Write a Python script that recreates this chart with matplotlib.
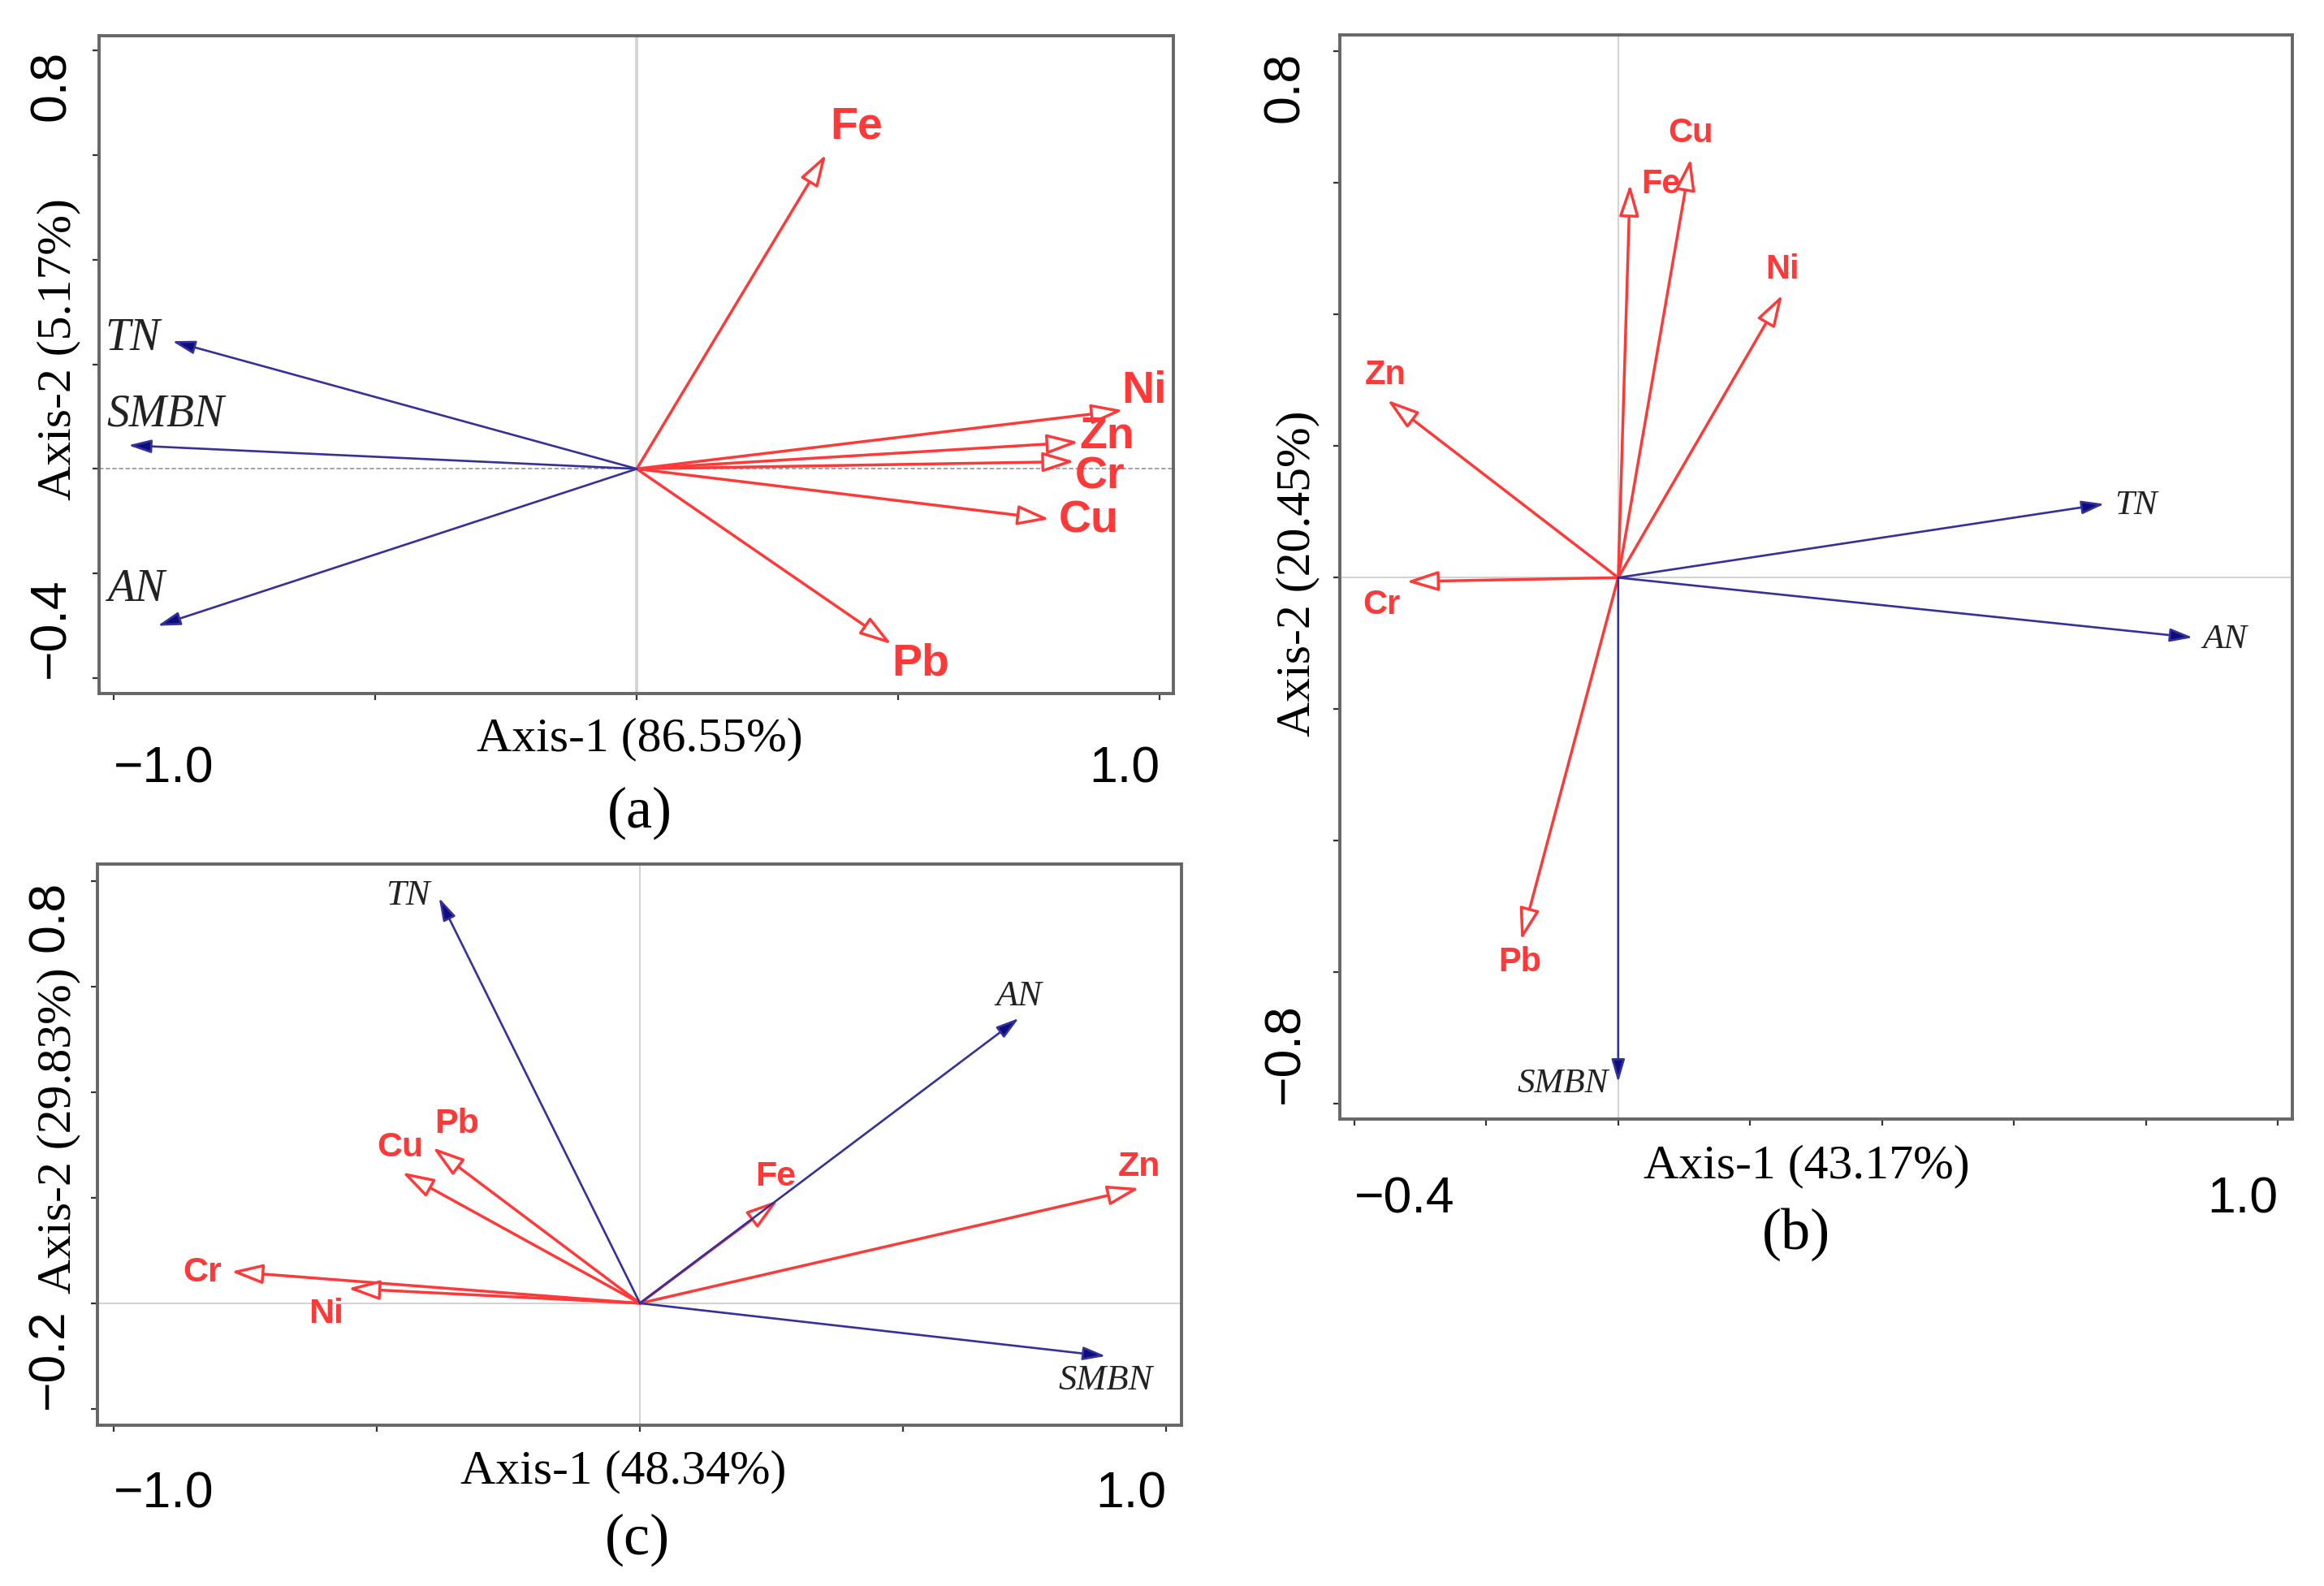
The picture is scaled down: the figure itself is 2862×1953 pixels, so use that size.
import matplotlib.pyplot as plt

W, H = 2862, 1953
SANS = 'Liberation Sans'
SERIF = 'Liberation Serif'
RED = '#ff3838'
BLUE_LINE = '#34309c'
BLUE_HEAD = '#0c0c7c'

# ---- panel (a)
a_env = ['TN', 'SMBN', 'AN']
a_env_x = [-0.888, -0.972, -0.916]
a_env_y = [0.244, 0.045, -0.300]
a_met = ['Fe', 'Ni', 'Zn', 'Cr', 'Cu', 'Pb']
a_met_x = [0.362, 0.930, 0.845, 0.837, 0.789, 0.487]
a_met_y = [0.601, 0.112, 0.051, 0.014, -0.096, -0.335]
a_xticks = [-1.0, -0.5, 0.0, 0.5, 1.0]
a_xticklabels = ['−1.0', '', '', '', '1.0']
a_yticks = [-0.4, -0.2, 0.0, 0.2, 0.4, 0.6, 0.8]
a_yticklabels = ['−0.4', '', '', '', '', '', '0.8']
a_xlabel = 'Axis-1 (86.55%)'
a_ylabel = 'Axis-2 (5.17%)'

# ---- panel (b)
b_env = ['TN', 'AN', 'SMBN']
b_env_x = [0.737, 0.871, 0.0]
b_env_y = [0.112, -0.091, -0.767]
b_met = ['Cu', 'Fe', 'Ni', 'Zn', 'Cr', 'Pb']
b_met_x = [0.110, 0.018, 0.249, -0.350, -0.321, -0.147]
b_met_y = [0.637, 0.598, 0.430, 0.270, -0.006, -0.551]
b_xticks = [-0.4, -0.2, 0.0, 0.2, 0.4, 0.6, 0.8, 1.0]
b_xticklabels = ['−0.4', '', '', '', '', '', '', '1.0']
b_yticks = [-0.8, -0.6, -0.4, -0.2, 0.0, 0.2, 0.4, 0.6, 0.8]
b_yticklabels = ['−0.8', '', '', '', '', '', '', '', '0.8']
b_xlabel = 'Axis-1 (43.17%)'
b_ylabel = 'Axis-2 (20.45%)'

# ---- panel (c)
c_env = ['TN', 'AN', 'SMBN']
c_env_x = [-0.382, 0.720, 0.885]
c_env_y = [0.768, 0.540, -0.100]
c_met = ['Pb', 'Cu', 'Fe', 'Zn', 'Cr', 'Ni']
c_met_x = [-0.394, -0.452, 0.262, 0.949, -0.777, -0.555]
c_met_y = [0.295, 0.248, 0.195, 0.218, 0.060, 0.028]
c_xticks = [-1.0, -0.5, 0.0, 0.5, 1.0]
c_xticklabels = ['−1.0', '', '', '', '1.0']
c_yticks = [-0.2, 0.0, 0.2, 0.4, 0.6, 0.8]
c_yticklabels = ['−0.2', '', '', '', '', '0.8']
c_xlabel = 'Axis-1 (48.34%)'
c_ylabel = 'Axis-2 (29.83%)'


def fig_xy(px, py):
    # pixel position in the picture -> figure fraction
    return px / W, 1 - py / H


def make_axes(fig, left, top, right, bottom):
    x0, y0 = fig_xy(left, bottom)
    x1, y1 = fig_xy(right, top)
    return fig.add_axes([x0, y0, x1 - x0, y1 - y0])


def draw_panel(ax, env, ex, ey, met, mx, my, env_off, met_off, env_fs, met_fs,
               xlim, ylim, xt, xtl, yt, ytl, xpad, ypad, dashed_h):
    ax.set_xlim(*xlim)
    ax.set_ylim(*ylim)
    ax.axvline(0, color='#d2d2d2', lw=2.6 if dashed_h else 1.4, zorder=0)
    if dashed_h:
        ax.axhline(0, color='#9c9c9c', lw=1.3, ls=(0, (3, 1.5)), zorder=0)
    else:
        ax.axhline(0, color='#d2d2d2', lw=1.4, zorder=0)

    for name, x, y in zip(met, mx, my):
        ax.annotate('', xy=(x, y), xytext=(0, 0),
                    arrowprops=dict(arrowstyle='-|>,head_length=24,head_width=7.5',
                                    mutation_scale=1, shrinkA=0, shrinkB=0,
                                    ec=RED, fc='white', lw=2.5))
    for name, x, y in zip(env, ex, ey):
        ax.annotate('', xy=(x, y), xytext=(0, 0),
                    arrowprops=dict(arrowstyle='-|>,head_length=17,head_width=5',
                                    mutation_scale=1, shrinkA=0, shrinkB=0,
                                    ec=BLUE_LINE, fc=BLUE_HEAD, lw=1.9))
    for name, x, y in zip(met, mx, my):
        ax.annotate(name, xy=(x, y), xytext=met_off[name], textcoords='offset pixels',
                    ha='center', va='center', color=RED, fontsize=met_fs,
                    fontweight='bold', family=SANS)
    for name, x, y in zip(env, ex, ey):
        ax.annotate(name, xy=(x, y), xytext=env_off[name], textcoords='offset pixels',
                    ha='center', va='center', color='#222222', fontsize=env_fs,
                    fontstyle='italic', family=SERIF)

    for s in ax.spines.values():
        s.set_color('#666666')
        s.set_linewidth(2.8)
    ax.set_xticks(xt)
    ax.set_xticklabels(xtl, family=SANS, fontsize=45)
    ax.set_yticks(yt)
    ax.set_yticklabels(ytl, family=SANS, fontsize=45, rotation=90)
    ax.tick_params(axis='both', direction='out', length=6, width=1.6, color='#333333')
    ax.tick_params(axis='x', pad=xpad)
    ax.tick_params(axis='y', pad=ypad)
    xl = ax.get_xticklabels()
    xl[0].set_ha('left')
    xl[-1].set_ha('right')
    yl = ax.get_yticklabels()
    for t in yl:
        t.set_ha('right')
    yl[0].set_va('bottom')
    yl[-1].set_va('top')


def put_labels(fig, ax, xlabel, ylabel, tag, xpos, ypos, tagpos):
    ax.set_xlabel(xlabel, family=SERIF, fontsize=43)
    ax.xaxis.set_label_coords(*fig_xy(*xpos), transform=fig.transFigure)
    ax.xaxis.label.set_va('center')
    ax.set_ylabel(ylabel, family=SERIF, fontsize=43)
    ax.yaxis.set_label_coords(*fig_xy(*ypos), transform=fig.transFigure)
    ax.yaxis.label.set_va('center')
    ax.yaxis.label.set_ha('center')
    fig.text(*fig_xy(*tagpos), tag, family=SERIF, fontsize=52, ha='center', va='center')


fig = plt.figure(figsize=(W / 100, H / 100), dpi=100)
fig.patch.set_facecolor('white')

# (a)
ax_a = make_axes(fig, 122, 44, 1445, 854)
draw_panel(ax_a, a_env, a_env_x, a_env_y, a_met, a_met_x, a_met_y,
           {'TN': (-49, 3), 'SMBN': (46, 38), 'AN': (-27, 45)},
           {'Fe': (37, 34), 'Ni': (26, 23), 'Zn': (35, 6), 'Cr': (31, -19),
            'Cu': (48, -2), 'Pb': (36, -24)},
           40, 40, (-1.028, 1.026), (-0.4295, 0.828),
           a_xticks, a_xticklabels, a_yticks, a_yticklabels, 40, 15, True)
put_labels(fig, ax_a, a_xlabel, a_ylabel, '(a)', (788, 910), (72, 430), (788, 1001))

# (b)
ax_b = make_axes(fig, 1650, 43, 2823, 1378)
draw_panel(ax_b, b_env, b_env_x, b_env_y, b_met, b_met_x, b_met_y,
           {'TN': (39, -2), 'AN': (39, -3), 'SMBN': (-68, -2)},
           {'Cu': (0, 31), 'Fe': (38, 0), 'Ni': (0, 31), 'Zn': (-2, 31),
            'Cr': (-31, -29), 'Pb': (-2, -27)},
           31, 30, (-0.422, 1.022), (-0.823, 0.825),
           b_xticks, b_xticklabels, b_yticks, b_yticklabels, 44, 21, False)
put_labels(fig, ax_b, b_xlabel, b_ylabel, '(b)', (2225, 1436), (1598, 706), (2212, 1520))

# (c)
ax_c = make_axes(fig, 120, 1064, 1455, 1755)
draw_panel(ax_c, c_env, c_env_x, c_env_y, c_met, c_met_x, c_met_y,
           {'TN': (-38, 3), 'AN': (0, 27), 'SMBN': (0, -30)},
           {'Pb': (30, 29), 'Cu': (-2, 31), 'Fe': (-3, 29), 'Zn': (0, 26),
            'Cr': (-35, -1), 'Ni': (-27, -31)},
           32, 31, (-1.031, 1.029), (-0.231, 0.832),
           c_xticks, c_xticklabels, c_yticks, c_yticklabels, 34, 15, False)
put_labels(fig, ax_c, c_xlabel, c_ylabel, '(c)', (768, 1812), (72, 1392), (785, 1896))

fig.savefig('out.png', dpi=100)
